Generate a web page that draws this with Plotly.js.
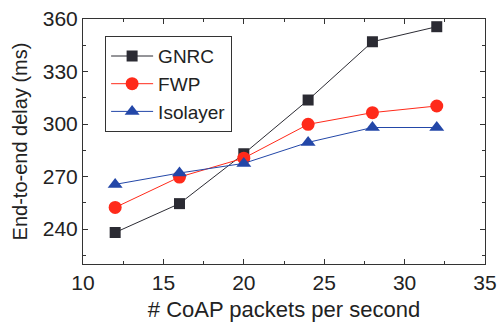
<!DOCTYPE html>
<html><head><meta charset="utf-8">
<script src="https://cdn.plot.ly/plotly-3.0.1.min.js"></script>
<style>html,body{margin:0;padding:0;background:#fff}#c{width:498px;height:327px}</style>
</head><body><div id="c"></div>
<script>
const packetRates = [12, 16, 20, 24, 28, 32];
const gnrcDelay = [238, 254.5, 283, 313.7, 347, 355.6];
const fwpDelay = [252.3, 269.7, 280.5, 299.8, 306.5, 310.3];
const isolayerDelay = [265.5, 272, 277.5, 289.5, 298, 298];
const seriesNames = ['GNRC', 'FWP', 'Isolayer'];
const xTicks = [10, 15, 20, 25, 30, 35];
const yTicks = [240, 270, 300, 330, 360];

const font = 'Liberation Sans, Arial, sans-serif';
const traces = [
  {x: packetRates, y: gnrcDelay, name: seriesNames[0], mode: 'lines+markers',
   line: {color: '#2b2b33', width: 1}, marker: {symbol: 'square', size: 11, color: '#2b2b33'}},
  {x: packetRates, y: fwpDelay, name: seriesNames[1], mode: 'lines+markers',
   line: {color: '#ff2a1a', width: 1}, marker: {symbol: 'circle', size: 13, color: '#ff2a1a'}},
  {x: packetRates, y: isolayerDelay, name: seriesNames[2], mode: 'lines+markers',
   line: {color: '#2347a8', width: 1}, marker: {symbol: 'triangle-up', size: 13, color: '#2347a8'}}
];
const axisCommon = {
  showgrid: false, zeroline: false, showline: true, mirror: 'ticks',
  linecolor: '#333', linewidth: 1, ticks: 'inside', ticklen: 5, tickcolor: '#333',
  tickfont: {family: font, size: 21, color: '#222'}
};
const layout = {
  width: 498, height: 327,
  margin: {l: 83, r: 13, t: 19, b: 63},
  paper_bgcolor: '#fff', plot_bgcolor: '#fff',
  showlegend: true,
  legend: {x: 0.055, y: 0.93, xanchor: 'left', yanchor: 'top',
    bordercolor: '#333', borderwidth: 1, bgcolor: '#fff', itemwidth: 42,
    font: {family: font, size: 19, color: '#222'}, tracegroupgap: 0},
  xaxis: Object.assign({}, axisCommon, {
    range: [10, 35], tickvals: xTicks, minor: {ticks: 'inside', ticklen: 3, tickcolor: '#333', dtick: 2.5},
    title: {text: '# CoAP packets per second', font: {family: font, size: 22, color: '#222'}, standoff: 8}
  }),
  yaxis: Object.assign({}, axisCommon, {
    range: [220, 360], tickvals: yTicks, minor: {ticks: 'inside', ticklen: 3, tickcolor: '#333', dtick: 15, tick0: 0},
    title: {text: 'End-to-end delay (ms)', font: {family: font, size: 20, color: '#222'}, standoff: 9}
  })
};
Plotly.newPlot('c', traces, layout, {displayModeBar: false, staticPlot: true});
</script></body></html>
